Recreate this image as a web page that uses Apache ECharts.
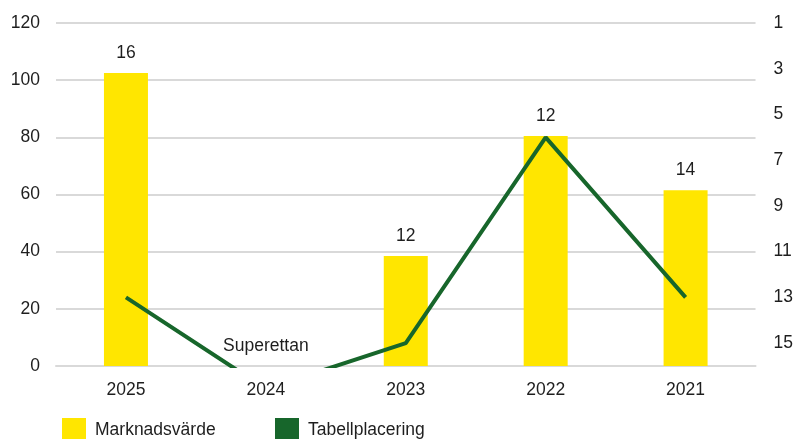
<!DOCTYPE html>
<html><head><meta charset="utf-8">
<script src="https://cdn.jsdelivr.net/npm/echarts@6/dist/echarts.min.js"></script>
<style>html,body{margin:0;padding:0;background:#fff}#c{width:796px;height:439px}</style>
</head><body><div id="c"></div>
<script>
const categories = ['2025', '2024', '2023', '2022', '2021'];
const marketValue = [102.5, 0, 38.5, 80.5, 61.5];
const barLabels = ['16', 'Superettan', '12', '12', '14'];
const tablePlacing = [13, 17, 15, 6, 13];
const seriesNames = ['Marknadsvärde', 'Tabellplacering'];

const FONT = '"Liberation Sans", Arial, sans-serif';
const FS = 17.5;
const TXT = '#1e1e1e';
const chart = echarts.init(document.getElementById('c'));
chart.setOption({
  animation: false,
  textStyle: { fontFamily: FONT },
  grid: { left: 56, right: 39, top: 23, bottom: 73 },
  legend: [
    { data: [seriesNames[0]], left: 62, top: 418, padding: 0, itemWidth: 24, itemHeight: 24, itemGap: 9,
      icon: 'rect',
      textStyle: { fontSize: FS, color: TXT, fontFamily: FONT, padding: [0, 0, 0, 4] } },
    { data: [seriesNames[1]], left: 275, top: 418, padding: 0, itemWidth: 24, itemHeight: 24, itemGap: 9,
      icon: 'rect',
      textStyle: { fontSize: FS, color: TXT, fontFamily: FONT, padding: [0, 0, 0, 4] } }
  ],
  xAxis: {
    type: 'category', data: categories,
    axisTick: { show: false },
    axisLine: { lineStyle: { color: '#d9d9d9', width: 2 } },
    axisLabel: { fontSize: FS, color: TXT, margin: 15, fontFamily: FONT }
  },
  yAxis: [
    { type: 'value', min: 0, max: 120, interval: 20,
      axisLabel: { fontSize: FS, color: TXT, margin: 16, fontFamily: FONT },
      splitLine: { lineStyle: { color: '#d9d9d9', width: 2 } },
      axisLine: { show: false }, axisTick: { show: false } },
    { type: 'value', min: 1, max: 16, interval: 2, inverse: true,
      axisLabel: { fontSize: FS, color: TXT, margin: 18, showMaxLabel: false, fontFamily: FONT },
      splitLine: { show: false }, axisLine: { show: false }, axisTick: { show: false } }
  ],
  series: [
    { name: seriesNames[0], type: 'bar', data: marketValue, barWidth: 44,
      itemStyle: { color: '#FFE600' },
      label: { show: true, position: 'top', distance: 11, fontSize: FS, color: TXT, fontFamily: FONT,
        formatter: p => barLabels[p.dataIndex] } },
    { name: seriesNames[1], type: 'line', yAxisIndex: 1, data: tablePlacing,
      showSymbol: false, symbol: 'none', clip: true,
      lineStyle: { color: '#17662B', width: 4 }, itemStyle: { color: '#17662B' } }
  ]
});
</script></body></html>
